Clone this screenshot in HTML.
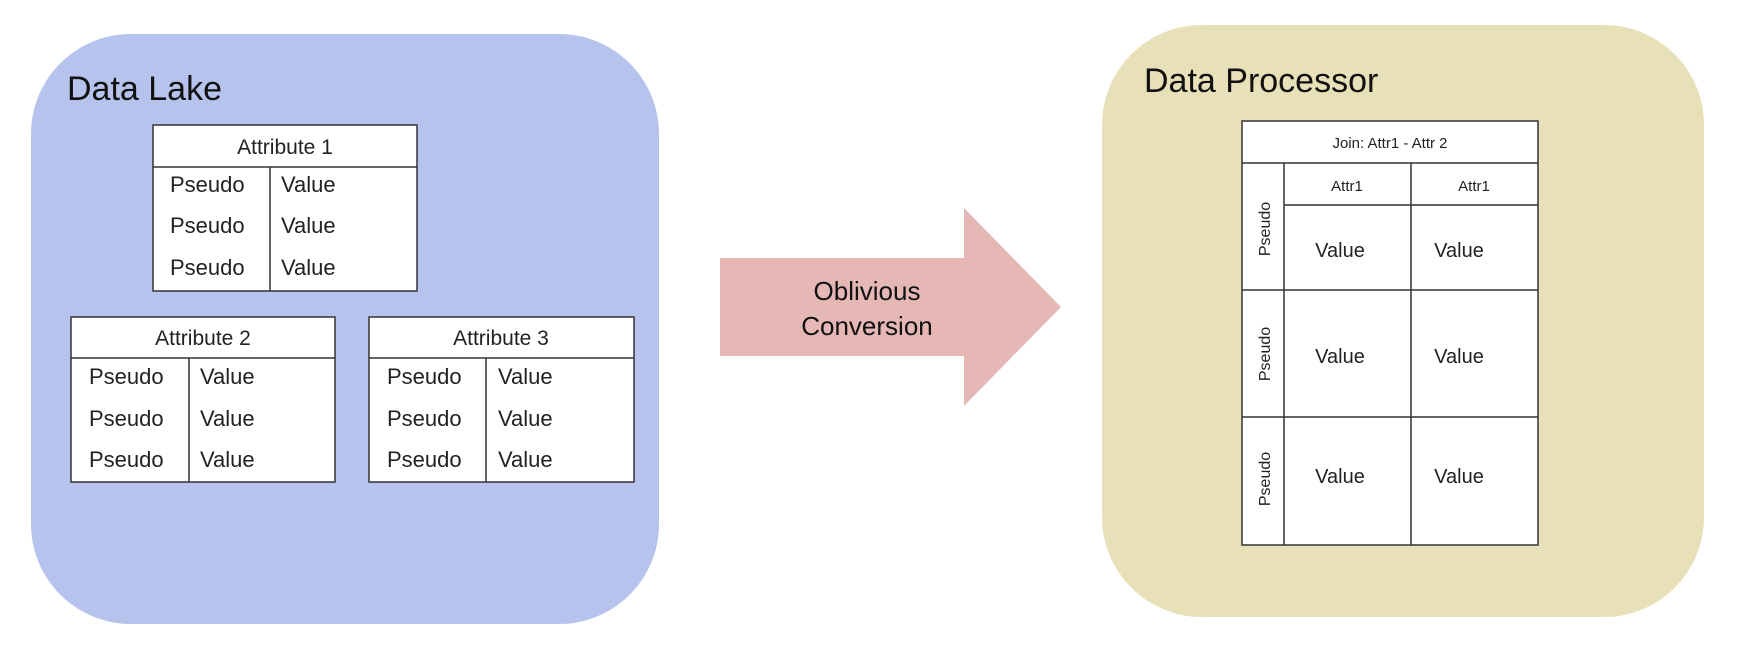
<!DOCTYPE html>
<html><head><meta charset="utf-8"><style>
html,body{margin:0;padding:0;background:#fff;}
svg{display:block;font-family:"Liberation Sans",Arial,sans-serif;}
</style></head><body>
<svg width="1747" height="665" viewBox="0 0 1747 665" xmlns="http://www.w3.org/2000/svg">
<!-- Data Lake -->
<rect x="31" y="34" width="628" height="590" rx="100" fill="#b6c3ec"/>
<text x="67" y="100" font-size="34" fill="#111">Data Lake</text>
<g stroke="#333" stroke-width="1.5" fill="#fff">
<rect x="153" y="125" width="264" height="166"/>
<line x1="153" y1="167" x2="417" y2="167"/><line x1="270" y1="167" x2="270" y2="291"/>
<rect x="71" y="317" width="264" height="165"/>
<line x1="71" y1="358" x2="335" y2="358"/><line x1="189" y1="358" x2="189" y2="482"/>
<rect x="369" y="317" width="265" height="165"/>
<line x1="369" y1="358" x2="634" y2="358"/><line x1="486" y1="358" x2="486" y2="482"/>
</g>
<g font-size="21" fill="#222">
<text x="285" y="154" text-anchor="middle">Attribute 1</text>
<text x="203" y="345" text-anchor="middle">Attribute 2</text>
<text x="501" y="345" text-anchor="middle">Attribute 3</text>
<g font-size="22">
<text x="170" y="192">Pseudo</text><text x="281" y="192">Value</text>
<text x="170" y="233">Pseudo</text><text x="281" y="233">Value</text>
<text x="170" y="275">Pseudo</text><text x="281" y="275">Value</text>
<text x="89" y="384">Pseudo</text><text x="200" y="384">Value</text>
<text x="89" y="426">Pseudo</text><text x="200" y="426">Value</text>
<text x="89" y="467">Pseudo</text><text x="200" y="467">Value</text>
<text x="387" y="384">Pseudo</text><text x="498" y="384">Value</text>
<text x="387" y="426">Pseudo</text><text x="498" y="426">Value</text>
<text x="387" y="467">Pseudo</text><text x="498" y="467">Value</text>
</g></g>
<!-- Arrow -->
<polygon points="720,258 964,258 964,208 1061,307 964,406 964,356 720,356" fill="#e6b8b5"/>
<text x="867" y="300" font-size="26" text-anchor="middle" fill="#111">Oblivious</text>
<text x="867" y="335" font-size="26" text-anchor="middle" fill="#111">Conversion</text>
<!-- Data Processor -->
<rect x="1102" y="25" width="602" height="592" rx="100" fill="#e8e0b8"/>
<text x="1144" y="92" font-size="34" fill="#111">Data Processor</text>
<g stroke="#333" stroke-width="1.5" fill="#fff">
<rect x="1242" y="121" width="296" height="424"/>
<line x1="1242" y1="163" x2="1538" y2="163"/>
<line x1="1284" y1="163" x2="1284" y2="545"/>
<line x1="1411" y1="163" x2="1411" y2="545"/>
<line x1="1284" y1="205" x2="1538" y2="205"/>
<line x1="1242" y1="290" x2="1538" y2="290"/>
<line x1="1242" y1="417" x2="1538" y2="417"/>
</g>
<g fill="#222">
<text x="1390" y="148" font-size="15" text-anchor="middle">Join: Attr1 - Attr 2</text>
<text x="1347" y="191" font-size="15" text-anchor="middle">Attr1</text>
<text x="1474" y="191" font-size="15" text-anchor="middle">Attr1</text>
<g font-size="20" text-anchor="middle">
<text x="1340" y="257">Value</text><text x="1459" y="257">Value</text>
<text x="1340" y="363">Value</text><text x="1459" y="363">Value</text>
<text x="1340" y="483">Value</text><text x="1459" y="483">Value</text>
</g>
<g font-size="16" text-anchor="middle">
<text transform="translate(1270,229) rotate(-90)">Pseudo</text>
<text transform="translate(1270,354) rotate(-90)">Pseudo</text>
<text transform="translate(1270,479) rotate(-90)">Pseudo</text>
</g></g>
</svg>
</body></html>
